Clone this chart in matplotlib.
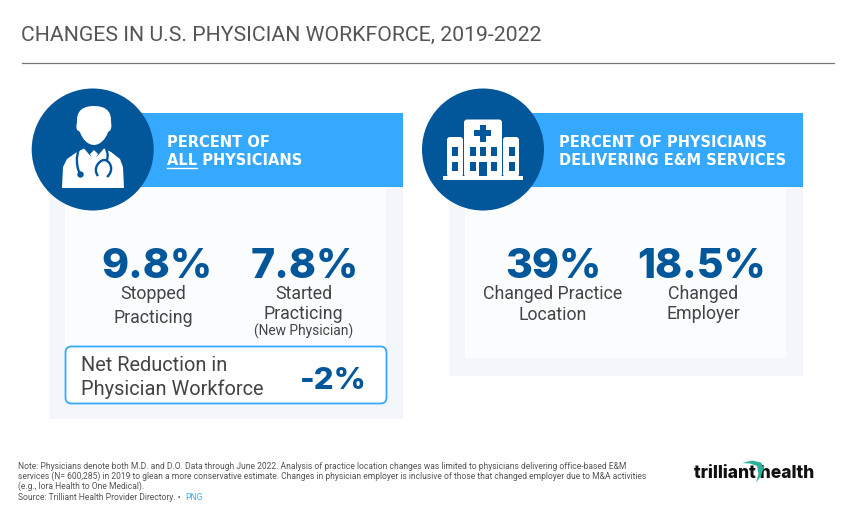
import matplotlib
matplotlib.use("Agg")
import matplotlib.pyplot as plt
from matplotlib.patches import Rectangle, Circle, FancyBboxPatch, Polygon, PathPatch
from matplotlib.path import Path

# values
title = "CHANGES IN U.S. PHYSICIAN WORKFORCE, 2019-2022"
left_header = ["PERCENT OF", "ALL PHYSICIANS"]
right_header = ["PERCENT OF PHYSICIANS", "DELIVERING E&M SERVICES"]
left_values = ["9.8%", "7.8%"]
right_values = ["39%", "18.5%"]
net_label = ["Net Reduction in", "Physician Workforce"]
net_value = "-2%"
footer = [
    "Note: Physicians denote both M.D. and D.O. Data through June 2022. Analysis of practice location changes was limited to physicians delivering office-based E&M",
    "services (N= 600,285) in 2019 to glean a more conservative estimate. Changes in physician employer is inclusive of those that changed employer due to M&A activities",
    "(e.g., Iora Health to One Medical).",
    "Source: Trilliant Health Provider Directory. \u2022",
]

DARK = "#02569a"
BAND = "#35a8ff"
OUTER = "#f3f7fb"
INNER = "#fafcfe"
GREY = "#444444"

plt.rcParams["font.family"] = ["Roboto", "DejaVu Sans"]

fig = plt.figure(figsize=(8.5, 5.2), dpi=100)
ax = fig.add_axes([0, 0, 1, 1])
ax.set_xlim(0, 850)
ax.set_ylim(520, 0)
ax.axis("off")


def rect(x0, y0, x1, y1, color, z=1):
    ax.add_patch(Rectangle((x0, y0), x1 - x0, y1 - y0, fc=color, ec="none", zorder=z))


def round_rect(x0, y0, x1, y1, color, r=2, z=4):
    ax.add_patch(FancyBboxPatch((x0 + r, y0 + r), x1 - x0 - 2 * r, y1 - y0 - 2 * r,
                                boxstyle=f"round,pad={r},rounding_size={r}",
                                fc=color, ec="none", zorder=z))


def big(x, y, s, size=29.5):
    ax.text(x, y, s, color=DARK, fontsize=size, family="Inter", weight="heavy",
            ha="center", va="baseline", zorder=5)


def label(x, y, s, size=12.75, ha="center"):
    ax.text(x, y, s, color=GREY, fontsize=size, ha=ha, va="baseline", zorder=5)


def header(x, y, s):
    ax.text(x, y, s, color="white", fontsize=10.5, weight="bold", family="DejaVu Sans",
            va="baseline", zorder=5)


def panel(x0, x1, y1, y2):
    rect(x0, 187, x1, y1, OUTER)
    rect(x0 + 16, 187, x1 - 17, y2, INNER, 2)
    rect(x0 + 16, 113, x1, 187, BAND, 2)


def curve(points, **kw):
    codes = [Path.MOVETO] + [Path.CURVE4] * (len(points) - 1)
    ax.add_patch(PathPatch(Path(points, codes), **kw))


def draw_doctor():
    # head with flat hair line and small ears
    curve([(94, 106), (84, 106), (77, 110), (77, 120),
           (77, 124), (76, 126), (76.5, 128),
           (77, 131), (79, 131), (80, 132),
           (82, 139), (88, 145), (94, 145),
           (100, 145), (106, 139), (108, 132),
           (109, 131), (111, 131), (111, 128),
           (112, 126), (111, 124), (111, 120),
           (111, 110), (104, 106), (94, 106)],
          fc="white", ec="none", zorder=4)
    # lab coat
    ax.add_patch(Polygon([(62, 188), (63, 167), (67, 159), (77, 152), (84, 148.5), (94, 160),
                          (104, 148.5), (111, 152), (120, 159), (123, 167), (124, 188)],
                         fc="white", ec="none", zorder=4))
    ax.add_patch(Polygon([(90, 154), (94, 150), (98, 154), (96, 158), (97, 163), (94, 167), (91, 163), (92, 158)],
                         fc="white", ec="none", zorder=4.6))
    # stethoscope
    curve([(79, 149), (76, 156), (76, 166), (80, 174)], fc="none", ec=DARK, lw=1.7, zorder=5)
    ax.add_patch(Circle((80.5, 174.5), 3.2, fc=DARK, ec="none", zorder=5))
    curve([(106, 149), (108, 153), (108, 156), (107, 160)], fc="none", ec=DARK, lw=1.7, zorder=5)
    curve([(98, 176), (92, 168), (100, 160), (104, 160)], fc="none", ec=DARK, lw=1.7, zorder=5)
    curve([(104, 160), (110, 160), (115, 170), (107, 177)], fc="none", ec=DARK, lw=1.7, zorder=5)


def draw_hospital():
    rect(443, 176, 523, 179.5, "white", 4)
    round_rect(464, 119.5, 502, 177, "white", 3)
    round_rect(447, 137, 463, 177, "white", 3)
    round_rect(503, 137, 519, 177, "white", 3)
    rect(474.5, 130, 491.5, 136, DARK, 5)
    rect(480, 124.5, 486, 141.5, DARK, 5)
    for wx in (452, 470, 480.5, 491, 509):
        rect(wx, 147, wx + 6, 156, DARK, 5)
    for wx in (452, 470, 491, 509):
        rect(wx, 162, wx + 6, 171, DARK, 5)
    rect(479.5, 162, 487.5, 176, DARK, 5)


ax.text(21, 40.5, title, color="#555555", fontsize=15.3, ha="left", va="baseline")
ax.plot([22, 834], [62.5, 62.5], color="#777777", lw=0.9)

# left panel
panel(49, 403, 419, 403)
ax.add_patch(Circle((92.7, 149.5), 61, fc=DARK, ec="none", zorder=3))
draw_doctor()
header(167, 147, left_header[0])
header(167, 165, left_header[1])
ax.plot([167, 197], [167.5, 167.5], color="white", lw=1, zorder=5)
big(157, 278, left_values[0])
big(305, 278, left_values[1])
label(153, 299, "Stopped")
label(153, 323, "Practicing")
label(303.5, 299, "Started")
label(303.5, 319, "Practicing")
label(303.5, 336, "(New Physician)", 9.9)

ax.add_patch(FancyBboxPatch((70, 351), 312, 48, boxstyle="round,pad=4.5,rounding_size=6",
                            fc="white", ec=BAND, lw=1.3, zorder=4))
label(81, 371, net_label[0], 14.4, "left")
label(81, 395, net_label[1], 14.4, "left")
big(333, 389, net_value, 22.5)

# right panel
panel(449, 803, 376, 358)
ax.add_patch(Circle((483, 149.5), 61, fc=DARK, ec="none", zorder=3))
draw_hospital()
header(559, 147, right_header[0])
header(559, 165, right_header[1])
big(553, 278, right_values[0])
big(702, 278, right_values[1])
label(553, 299, "Changed Practice")
label(553, 320, "Location")
label(703, 299, "Changed")
label(703, 319, "Employer")

# footer
for y, line in zip((469, 479, 489, 500), footer):
    ax.text(18, y, line, color="#555555", fontsize=6.13, va="baseline")
ax.text(185, 500, "PNG", color=BAND, fontsize=6.13, va="baseline")

# logo
ax.text(694, 478, "trilliant health", color="#111111", fontsize=12.6, weight="heavy",
        family="Inter", va="baseline", zorder=3)
ax.add_patch(Polygon([(742, 463), (752, 460.5), (761, 462.5), (763.5, 468), (761, 476), (756, 482.5),
                      (758.5, 474), (757, 466), (750, 463.5)], fc="#2bb39a", ec="none", zorder=4))

fig.savefig("out.png", dpi=100)
